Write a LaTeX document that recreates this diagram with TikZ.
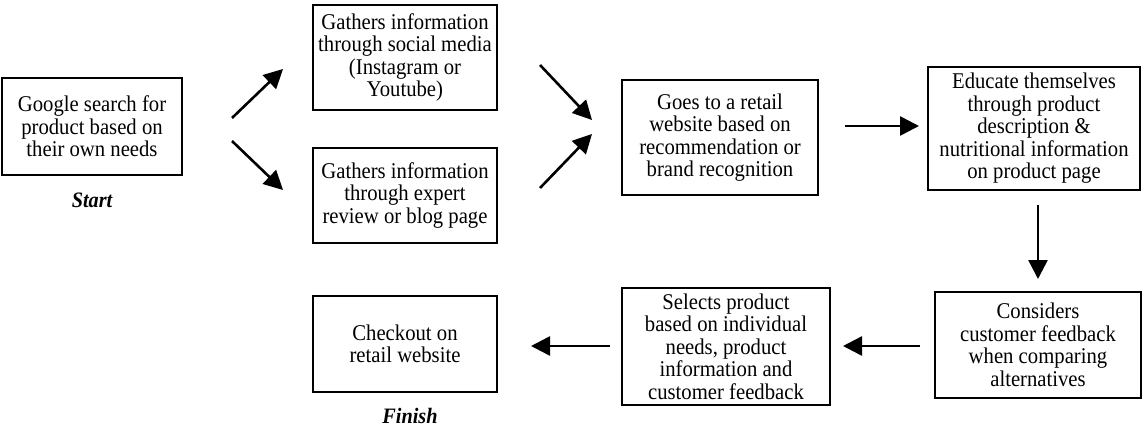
\documentclass[tikz,border=0pt]{standalone}
\usepackage{fontspec}
\setmainfont[FakeStretch=0.92]{Liberation Serif}
\usetikzlibrary{arrows.meta,calc}
\begin{document}
\begin{tikzpicture}[x=1pt,y=-1pt,
  box/.style={draw,line width=2.7pt,align=center,inner sep=0pt,
              font=\fontsize{22.5}{22.5}\selectfont},
  flow/.style={line width=2.6pt,-{Triangle[length=19pt,width=19pt]}},
  tag/.style={font=\fontsize{22}{22}\selectfont\bfseries\itshape}]
\useasboundingbox (0,0) rectangle (1145,428);

% process steps
\node[box,minimum width=180pt,minimum height=97pt] (google) at (92,126.5)
  {Google search for\\product based on\\their own needs};
\node[box,minimum width=184pt,minimum height=105pt] (social) at (405,57.5)
  {Gathers information\\through social media\\(Instagram or\\Youtube)};
\node[box,minimum width=184pt,minimum height=95pt] (expert) at (405,195.5)
  {Gathers information\\through expert\\review or blog page};
\node[box,minimum width=196pt,minimum height=115pt] (retail) at (720,137.5)
  {Goes to a retail\\website based on\\recommendation or\\brand recognition};
\node[box,minimum width=212pt,minimum height=123pt] (educate) at (1034,128.5)
  {Educate themselves\\through product\\description \&\\nutritional information\\on product page};
\node[box,minimum width=206pt,minimum height=106pt] (consider) at (1038,345)
  {Considers\\customer feedback\\when comparing\\alternatives};
\node[box,minimum width=208pt,minimum height=117pt] (select) at (726,346.5)
  {Selects product\\based on individual\\needs, product\\information and\\customer feedback};
\node[box,minimum width=184pt,minimum height=96pt] (checkout) at (405,344)
  {Checkout on\\retail website};

% start / finish labels
\node[tag] (start) at (92,200) {Start};
\node[tag] (finish) at (410,416) {Finish};

% free ends of the connectors
\coordinate (g1) at (232,118);  \coordinate (s1) at (283,69);
\coordinate (g2) at (232,141);  \coordinate (e1) at (283,190);
\coordinate (s2) at (540,65);   \coordinate (r1) at (592,120);
\coordinate (e2) at (540,188);  \coordinate (r2) at (592,134);
\coordinate (r3) at (845,126);  \coordinate (d1) at (919,126);
\coordinate (d2) at (1038,205); \coordinate (c1) at (1038,279);
\coordinate (c2) at (920,346);  \coordinate (l1) at (843,346);
\coordinate (l2) at (610,346);  \coordinate (k1) at (531,346);

\draw[flow] (g1) -- (s1);
\draw[flow] (g2) -- (e1);
\draw[flow] (s2) -- (r1);
\draw[flow] (e2) -- (r2);
\draw[flow] (r3) -- (d1);
\draw[flow] (d2) -- (c1);
\draw[flow] (c2) -- (l1);
\draw[flow] (l2) -- (k1);
\end{tikzpicture}
\end{document}
